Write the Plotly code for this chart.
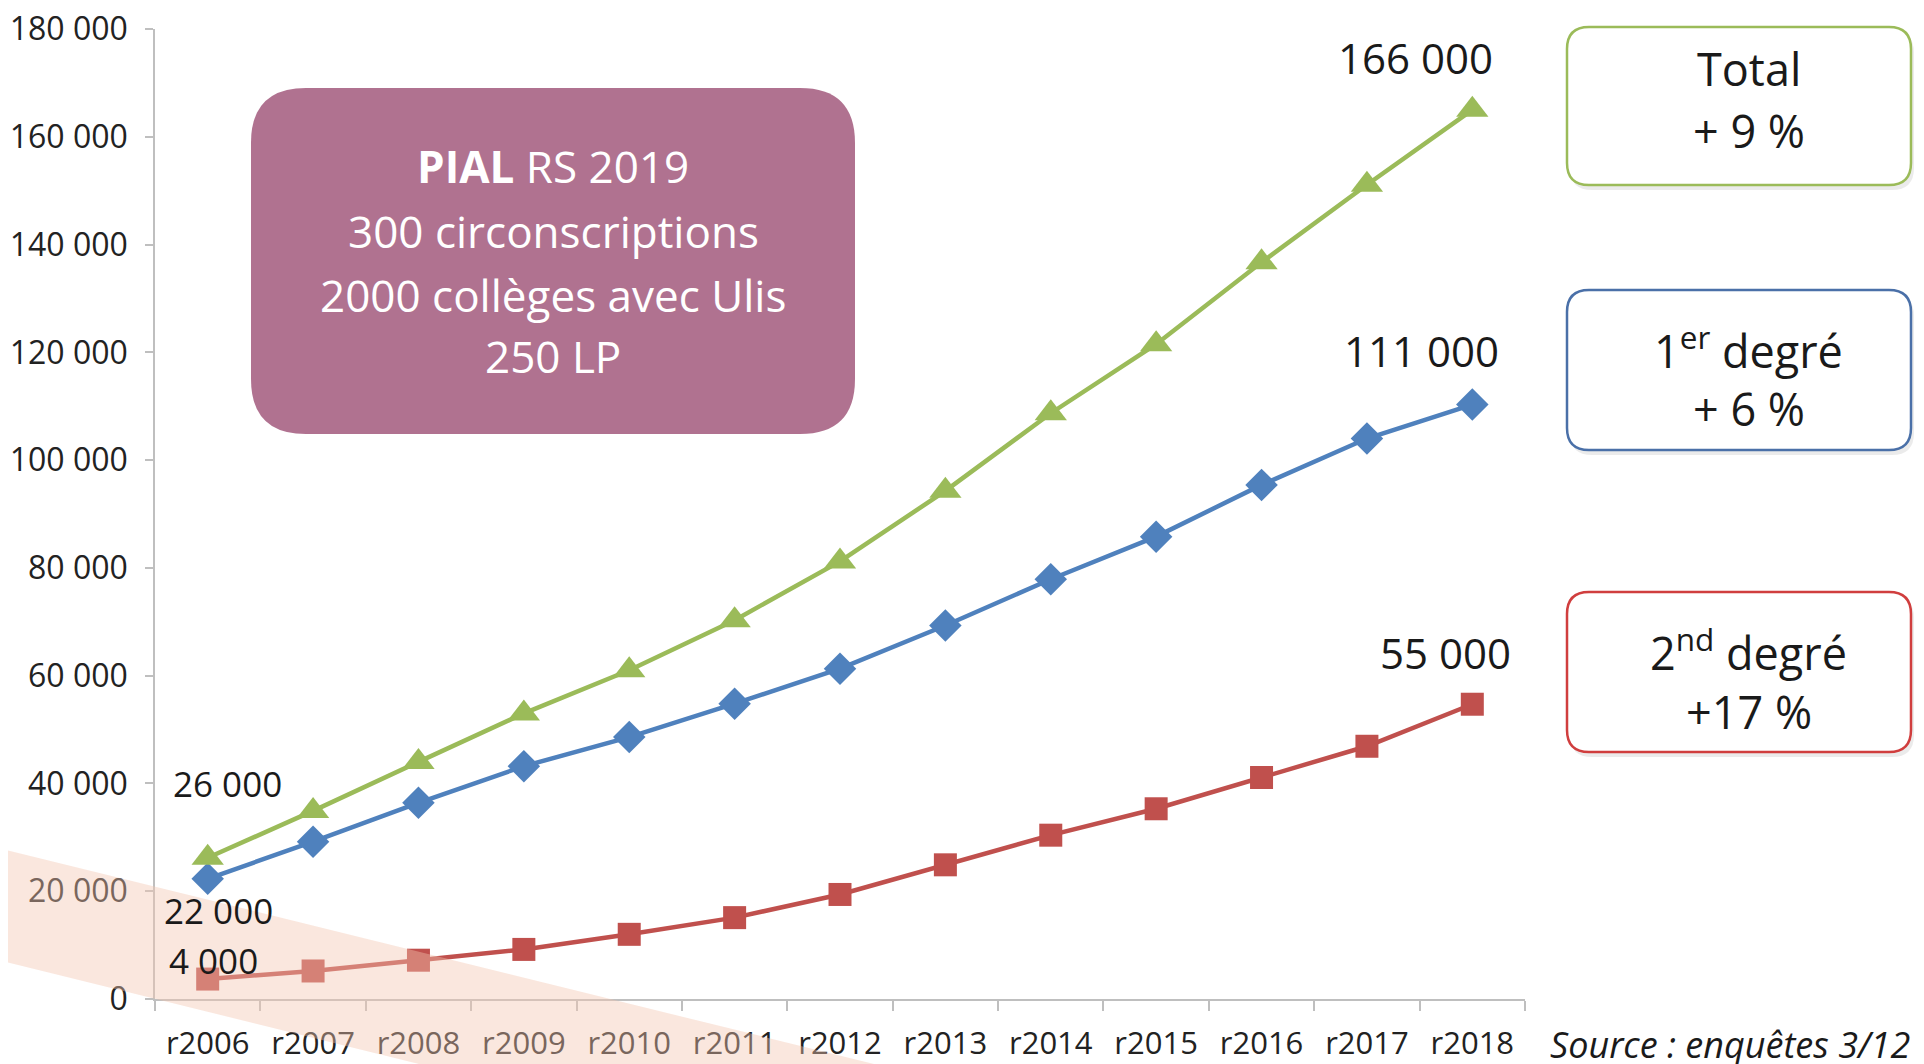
import plotly.graph_objects as go

# ---------------- data ----------------
categories = ["r2006", "r2007", "r2008", "r2009", "r2010", "r2011", "r2012",
              "r2013", "r2014", "r2015", "r2016", "r2017", "r2018"]
total = [26200, 34900, 44000, 53000, 61000, 70300, 81200, 94300, 108700,
         121500, 136700, 151100, 165000]
premier_degre = [22300, 29200, 36400, 43200, 48600, 54800, 61300, 69300,
                 77900, 85800, 95400, 104000, 110300]
second_degre = [3700, 5200, 7200, 9200, 12000, 15100, 19400, 24900, 30400,
                35300, 41100, 46900, 54700]
y_tickvals = [0, 20000, 40000, 60000, 80000, 100000, 120000, 140000, 160000, 180000]
y_ticktext = ["0", "20 000", "40 000", "60 000", "80 000", "100 000",
              "120 000", "140 000", "160 000", "180 000"]
value_labels = ["26 000", "22 000", "4 000", "166 000", "111 000", "55 000"]
box_lines = ["<b>PIAL</b> RS 2019", "300 circonscriptions",
             "2000 collèges avec Ulis", "250 LP"]
legend_texts = [("Total", "+ 9 %"), ("1<sup>er</sup> degré", "+ 6 %"),
                ("2<sup>nd</sup> degré", "+17 %")]
source_text = "Source : enquêtes 3/12"

# ---------------- layout geometry (screen px) ----------------
W, H = 1924, 1064
OFF = 8                   # default page body margin
L, R = 155, 1525          # plot area left/right
T, B = 29, 999            # plot area top/bottom
FW, FH = W - OFF, H - OFF  # figure size so it reaches the window edges

GREEN = "#9BBB59"
BLUE = "#4F81BD"
RED = "#C0504D"
FONT = "Open Sans"


def px(x):
    return (x - L) / (R - L)


def py(y):
    return (B - y) / (B - T)


def rounded(x0, y0, x1, y1, r):
    pts = [
        ("M", [(x0 + r, y0)]), ("L", [(x1 - r, y0)]),
        ("Q", [(x1, y0), (x1, y0 + r)]), ("L", [(x1, y1 - r)]),
        ("Q", [(x1, y1), (x1 - r, y1)]), ("L", [(x0 + r, y1)]),
        ("Q", [(x0, y1), (x0, y1 - r)]), ("L", [(x0, y0 + r)]),
        ("Q", [(x0, y0), (x0 + r, y0)]),
    ]
    s = ""
    for cmd, ps in pts:
        s += cmd + " " + " ".join(f"{px(a):.5f},{py(b):.5f}" for a, b in ps) + " "
    return s + "Z"


fig = go.Figure()

fig.add_trace(go.Scatter(x=categories, y=second_degre, mode="lines+markers",
                         line=dict(color=RED, width=4.5),
                         marker=dict(symbol="square", size=23, color=RED),
                         name="2nd degré"))
fig.add_trace(go.Scatter(x=categories, y=premier_degre, mode="lines+markers",
                         line=dict(color=BLUE, width=4.5),
                         marker=dict(symbol="diamond", size=25, color=BLUE),
                         name="1er degré"))
fig.add_trace(go.Scatter(x=categories, y=total, mode="lines+markers",
                         line=dict(color=GREEN, width=4.5),
                         marker=dict(symbol="triangle-up", size=28, color=GREEN),
                         name="Total"))

shapes = []
# purple info box
shapes.append(dict(type="path", xref="paper", yref="paper",
                   path=rounded(251, 88, 855, 434, 55),
                   fillcolor="#B07290", line=dict(width=0), layer="below"))
# legend-like boxes with soft shadow
for (y0, y1), col in zip([(27, 185), (290, 450), (592, 752)],
                         [GREEN, "#4A70A8", "#D03E3E"]):
    shapes.append(dict(type="path", xref="paper", yref="paper",
                       path=rounded(1570, y0 + 4, 1914, y1 + 5, 22),
                       fillcolor="rgba(0,0,0,0.08)", line=dict(width=0),
                       layer="below"))
    shapes.append(dict(type="path", xref="paper", yref="paper",
                       path=rounded(1567, y0, 1911, y1, 22),
                       fillcolor="white", line=dict(color=col, width=2.5),
                       layer="below"))
# translucent diagonal band
band = [(-10, 846), (874, 1064), (419, 1064), (-10, 958)]
bp = "M " + " L ".join(f"{px(a):.5f},{py(b):.5f}" for a, b in band) + " Z"
shapes.append(dict(type="path", xref="paper", yref="paper", path=bp,
                   fillcolor="#F2C5B1", opacity=0.42, line=dict(width=0),
                   layer="above"))

annotations = []
# value labels
label_pos = [(227, 783, 35), (218, 910, 35), (213, 960, 35),
             (1415, 57, 42), (1421, 350, 42), (1445, 653, 42)]
for txt, (x, y, fs) in zip(value_labels, label_pos):
    annotations.append(dict(x=px(x), y=py(y), xref="paper", yref="paper",
                            text=txt, showarrow=False, xanchor="center",
                            yanchor="middle",
                            font=dict(family=FONT, size=fs, color="#1a1a1a")))
# purple box text
for txt, y in zip(box_lines, [166, 231, 295, 356]):
    annotations.append(dict(x=px(553), y=py(y), xref="paper", yref="paper",
                            text=txt, showarrow=False, xanchor="center",
                            yanchor="middle",
                            font=dict(family=FONT, size=44, color="white")))
# legend box text
for (l1, l2), (ya, yb) in zip(legend_texts, [(69, 131), (348, 408), (650, 711)]):
    for t, y in ((l1, ya), (l2, yb)):
        annotations.append(dict(x=px(1749), y=py(y), xref="paper", yref="paper",
                                text=t, showarrow=False, xanchor="center",
                                yanchor="middle",
                                font=dict(family=FONT, size=45, color="#1a1a1a")))
# source
annotations.append(dict(x=px(1548), y=py(1044), xref="paper", yref="paper",
                        text=f"<i>{source_text}</i>", showarrow=False,
                        xanchor="left", yanchor="middle",
                        font=dict(family=FONT, size=36, color="#1a1a1a")))

fig.update_layout(
    width=FW, height=FH,
    margin=dict(l=L - OFF, r=FW - (R - OFF), t=T - OFF,
                b=FH - (B - OFF), pad=0, autoexpand=False),
    paper_bgcolor="white", plot_bgcolor="rgba(0,0,0,0)",
    showlegend=False,
    shapes=shapes, annotations=annotations,
    font=dict(family=FONT),
)
fig.update_xaxes(type="category", categoryorder="array", categoryarray=categories,
                 range=[-0.5, 12.5], showgrid=False, zeroline=False,
                 showline=True, linecolor="#BFBFBF", linewidth=1.5,
                 ticks="outside", tickson="boundaries", ticklen=10,
                 tickcolor="#BFBFBF", tickwidth=1.5,
                 tickfont=dict(family=FONT, size=31, color="#222"),
                 ticklabelstandoff=16, ticklabeloverflow="allow")
fig.update_yaxes(range=[0, 180000], tickvals=y_tickvals, ticktext=y_ticktext,
                 showgrid=False, zeroline=False, showline=True,
                 linecolor="#BFBFBF", linewidth=1.5, ticks="outside",
                 ticklen=8, tickcolor="#BFBFBF", tickwidth=1.5,
                 tickfont=dict(family=FONT, size=32, color="#222"),
                 ticklabelstandoff=11, ticklabeloverflow="allow")

fig.write_html("out.html")
